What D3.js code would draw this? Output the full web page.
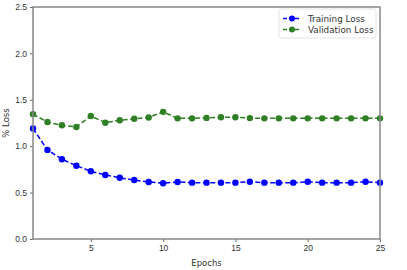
<!DOCTYPE html>
<html>
<head>
<meta charset="utf-8">
<script src="https://cdn.jsdelivr.net/npm/d3@7"></script>
<style>
  body { margin: 0; background: #fff; }
  svg { font-family: "DejaVu Sans", sans-serif; }
  .tick text { font-size: 8.5px; fill: #333; }
</style>
</head>
<body>
<div id="chart"></div>
<script>
var svgWidth = 407;
var svgHeight = 270;

var margin = { top: 7, right: 27, bottom: 31, left: 33 };
var width = svgWidth - margin.left - margin.right;
var height = svgHeight - margin.top - margin.bottom;

// data
var epochs = d3.range(1, 26);
var trainingLoss = [1.19, 0.96, 0.86, 0.79, 0.73, 0.69, 0.66, 0.635, 0.615, 0.60,
  0.615, 0.607, 0.607, 0.607, 0.607, 0.617, 0.607, 0.607, 0.607, 0.617,
  0.607, 0.607, 0.607, 0.617, 0.607];
var validationLoss = [1.345, 1.26, 1.225, 1.207, 1.325, 1.253, 1.28, 1.295, 1.31, 1.37,
  1.30, 1.30, 1.305, 1.312, 1.312, 1.303, 1.30, 1.30, 1.30, 1.30,
  1.30, 1.30, 1.30, 1.30, 1.30];
var xTicks = [5, 10, 15, 20, 25];
var yTicks = [0, 0.5, 1.0, 1.5, 2.0, 2.5];

var series = [
  { name: "Training Loss", values: trainingLoss, color: "#0000ff" },
  { name: "Validation Loss", values: validationLoss, color: "#2f7f24" }
];

var svg = d3.select("#chart").append("svg")
  .attr("width", svgWidth)
  .attr("height", svgHeight);

var chartGroup = svg.append("g")
  .attr("transform", `translate(${margin.left}, ${margin.top})`);

var xScale = d3.scaleLinear().domain([1, 25]).range([0, width]);
var yScale = d3.scaleLinear().domain([0, 2.5]).range([height, 0]);

// axes
var bottomAxis = d3.axisBottom(xScale).tickValues(xTicks).tickSize(3).tickPadding(3);
var leftAxis = d3.axisLeft(yScale).tickValues(yTicks).tickSize(3).tickPadding(3)
  .tickFormat(d3.format(".1f"));

var xAxisG = chartGroup.append("g")
  .attr("transform", `translate(0, ${height})`)
  .call(bottomAxis);
var yAxisG = chartGroup.append("g").call(leftAxis);

[xAxisG, yAxisG].forEach(function(g) {
  g.select(".domain").remove();
  g.selectAll(".tick line").attr("stroke", "#444").attr("stroke-width", 0.8);
});

// lines + markers
var line = d3.line()
  .x((d, i) => xScale(epochs[i]))
  .y(d => yScale(d));

series.forEach(function(s) {
  chartGroup.append("path")
    .datum(s.values)
    .attr("fill", "none")
    .attr("stroke", s.color)
    .attr("stroke-width", 1.5)
    .attr("stroke-dasharray", "5,2.5")
    .attr("d", line);

  chartGroup.selectAll(null)
    .data(s.values)
    .enter()
    .append("circle")
    .attr("cx", (d, i) => xScale(epochs[i]))
    .attr("cy", d => yScale(d))
    .attr("r", 3.2)
    .attr("fill", s.color);
});

// frame
chartGroup.append("rect")
  .attr("x", 0).attr("y", 0)
  .attr("width", width).attr("height", height)
  .attr("fill", "none")
  .attr("stroke", "#888")
  .attr("stroke-width", 1.5);

// axis labels
svg.append("text")
  .attr("x", margin.left + width / 2)
  .attr("y", svgHeight - 4)
  .attr("text-anchor", "middle")
  .attr("font-size", "8.5px")
  .attr("fill", "#333")
  .text("Epochs");

svg.append("text")
  .attr("transform", `translate(9, ${margin.top + height / 2}) rotate(-90)`)
  .attr("text-anchor", "middle")
  .attr("font-size", "8.5px")
  .attr("fill", "#333")
  .text("% Loss");

// legend
var legend = chartGroup.append("g")
  .attr("transform", `translate(${width - 101}, 2)`);

legend.append("rect")
  .attr("width", 97).attr("height", 29)
  .attr("rx", 2)
  .attr("fill", "#fff")
  .attr("stroke", "#ddd")
  .attr("stroke-width", 0.8);

series.forEach(function(s, i) {
  var row = legend.append("g").attr("transform", `translate(4, ${9.5 + i * 11})`);
  row.append("line")
    .attr("x1", 0).attr("x2", 18)
    .attr("stroke", s.color)
    .attr("stroke-width", 1.5)
    .attr("stroke-dasharray", "4,2");
  row.append("circle").attr("cx", 9).attr("r", 3).attr("fill", s.color);
  row.append("text")
    .attr("x", 25).attr("y", 3)
    .attr("font-size", "8.8px")
    .attr("fill", "#333")
    .text(s.name);
});
</script>
</body>
</html>
